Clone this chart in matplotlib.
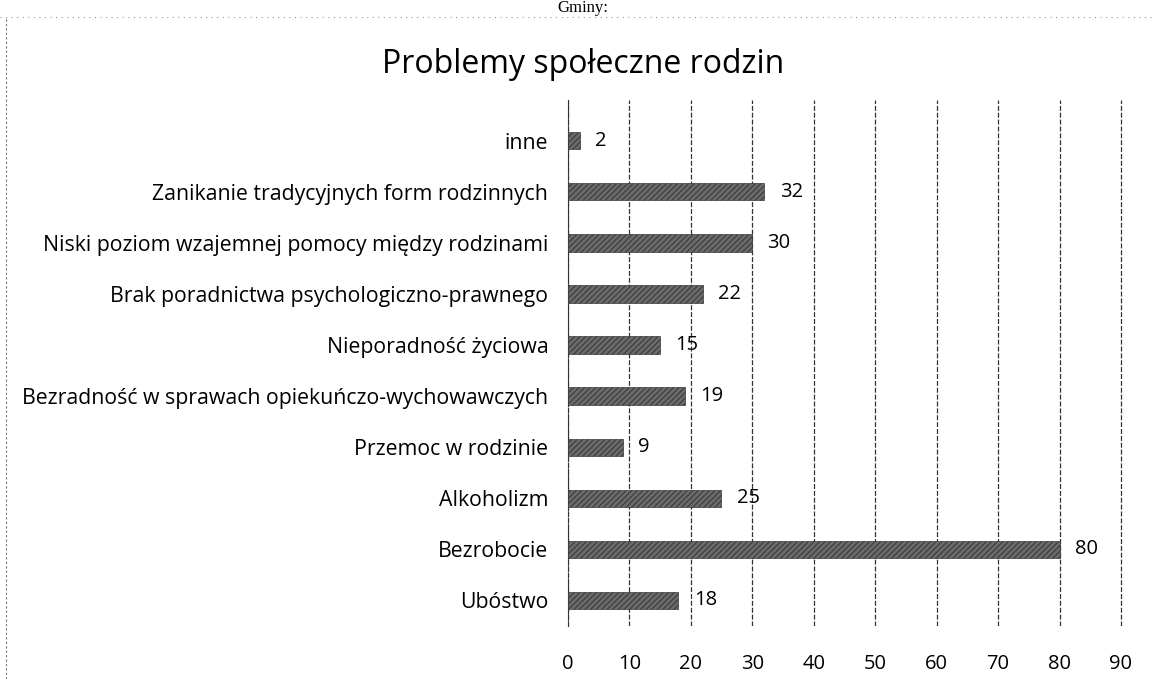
import matplotlib.pyplot as plt

categories = ["Ubóstwo", "Bezrobocie", "Alkoholizm", "Przemoc w rodzinie",
              "Bezradność w sprawach opiekuńczo-wychowawczych",
              "Nieporadność życiowa",
              "Brak poradnictwa psychologiczno-prawnego",
              "Niski poziom wzajemnej pomocy między rodzinami",
              "Zanikanie tradycyjnych form rodzinnych",
              "inne"]
values = [18, 80, 25, 9, 19, 15, 22, 30, 32, 2]
xticks = [0, 10, 20, 30, 40, 50, 60, 70, 80, 90]

plt.rcParams['font.family'] = ['Open Sans', 'DejaVu Sans']
plt.rcParams['hatch.color'] = '#222222'
plt.rcParams['hatch.linewidth'] = 0.8

fig = plt.figure(figsize=(11.54, 6.79), dpi=100)
ax = fig.add_axes([0.492, 0.078, 0.481, 0.775])

pos = list(range(len(categories)))
ax.barh(pos, values, height=0.34, color='#6b6b6b', edgecolor='#3a3a3a',
        hatch='//////', linewidth=0.5, zorder=3)
for p, v in zip(pos, values):
    ax.text(v + 2.5, p, str(v), va='center', ha='left', fontsize=14.5, zorder=4)

ax.set_xlim(0, 90.3)
ax.set_ylim(-0.5, 9.8)
ax.set_xticks(xticks)
ax.set_yticks(pos)
ax.set_yticklabels(categories, fontsize=15.3)
ax.tick_params(axis='x', length=0, pad=20, labelsize=14.5)
ax.tick_params(axis='y', length=0, pad=14)
ax.xaxis.grid(True, color='#333333', linestyle=(0, (4, 1.5)), linewidth=0.9, zorder=0)
for s in ['top', 'right', 'bottom']:
    ax.spines[s].set_visible(False)
ax.spines['left'].set_color('#333333')
ax.spines['left'].set_linestyle((0, (4, 1.5)))

fig.text(0.505, 0.905, "Problemy społeczne rodzin", ha='center', va='center', fontsize=23)

# scanned page fragments
fig.text(0.505, 0.977, "Gminy:", ha='center', va='bottom', fontsize=12,
         family='Liberation Serif')
fig.add_artist(plt.Line2D([0.0, 1.0], [0.975, 0.975], color='#999999',
                          linestyle=(0, (1, 4)), linewidth=0.8))
fig.add_artist(plt.Line2D([0.005, 0.005], [0.0, 0.975], color='#777777',
                          linestyle=(0, (2, 2)), linewidth=0.8))

fig.savefig("out.png", dpi=100)
